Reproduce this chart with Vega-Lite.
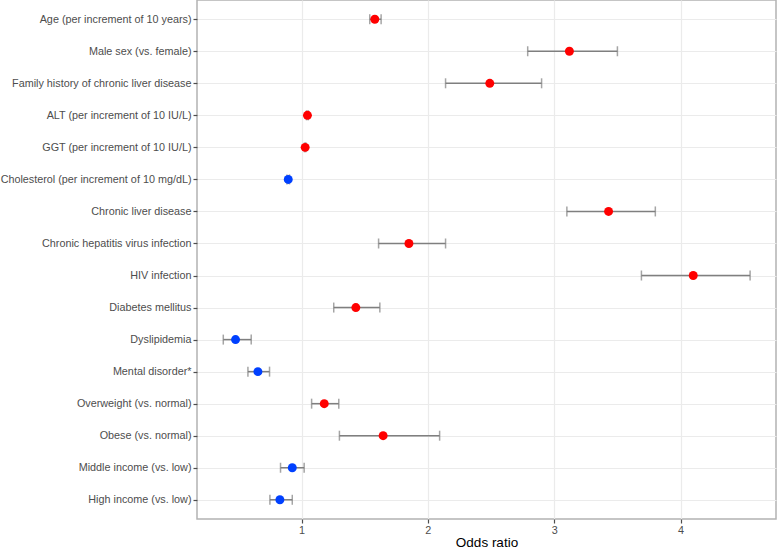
{
  "$schema": "https://vega.github.io/schema/vega-lite/v6.json",
  "autosize": {"type": "none"},
  "padding": {"left": 197, "top": 0, "right": 2, "bottom": 32},
  "width": 579,
  "height": 519,
  "background": "white",
  "config": {
    "view": {"stroke": "#B3B3B3", "strokeWidth": 1.5},
    "font": "Liberation Sans",
    "axis": {
      "domain": false,
      "gridColor": "#EBEBEB",
      "gridWidth": 1.2,
      "tickColor": "#4D4D4D",
      "tickWidth": 1.2,
      "tickSize": 4,
      "labelColor": "#4D4D4D",
      "labelFont": "Liberation Sans",
      "labelFontSize": 10.8,
      "labelLimit": 0,
      "titleFont": "Liberation Sans",
      "titleFontWeight": "normal",
      "titleColor": "#000000",
      "titleFontSize": 13.5
    }
  },
  "data": {
    "values": [
      {"factor": "Age (per increment of 10 years)", "or": 1.58, "lo": 1.54, "hi": 1.63},
      {"factor": "Male sex (vs. female)", "or": 3.12, "lo": 2.79, "hi": 3.50},
      {"factor": "Family history of chronic liver disease", "or": 2.49, "lo": 2.14, "hi": 2.90},
      {"factor": "ALT  (per increment of 10 IU/L)", "or": 1.047, "lo": 1.04, "hi": 1.054},
      {"factor": "GGT (per increment of 10 IU/L)", "or": 1.029, "lo": 1.024, "hi": 1.034},
      {"factor": "Cholesterol (per increment of 10 mg/dL)", "or": 0.895, "lo": 0.885, "hi": 0.905},
      {"factor": "Chronic liver disease", "or": 3.43, "lo": 3.10, "hi": 3.80},
      {"factor": "Chronic hepatitis virus infection", "or": 1.85, "lo": 1.61, "hi": 2.14},
      {"factor": "HIV infection", "or": 4.10, "lo": 3.69, "hi": 4.55},
      {"factor": "Diabetes mellitus", "or": 1.43, "lo": 1.255, "hi": 1.62},
      {"factor": "Dyslipidemia", "or": 0.478, "lo": 0.381, "hi": 0.602},
      {"factor": "Mental disorder*", "or": 0.655, "lo": 0.576, "hi": 0.747},
      {"factor": "Overweight (vs. normal)", "or": 1.18, "lo": 1.08, "hi": 1.295},
      {"factor": "Obese (vs. normal)", "or": 1.646, "lo": 1.30, "hi": 2.093},
      {"factor": "Middle income (vs. low)", "or": 0.927, "lo": 0.834, "hi": 1.021},
      {"factor": "High income (vs. low)", "or": 0.829, "lo": 0.750, "hi": 0.927}
    ]
  },
  "encoding": {
    "y": {
      "field": "factor",
      "type": "nominal",
      "sort": null,
      "scale": {"type": "point", "padding": 0.6},
      "axis": {"title": null, "labelPadding": 2, "grid": true}
    }
  },
  "layer": [
    {
      "mark": {"type": "rule", "color": "#7F7F7F", "strokeWidth": 1.5},
      "encoding": {
        "x": {
          "field": "lo",
          "type": "quantitative",
          "scale": {"domain": [0.173, 4.755], "nice": false, "zero": false},
          "axis": {"title": "Odds ratio", "values": [1, 2, 3, 4], "format": "d", "grid": true, "labelPadding": 1, "titlePadding": 1}
        },
        "x2": {"field": "hi"}
      }
    },
    {
      "mark": {"type": "tick", "color": "#7F7F7F", "thickness": 1.5, "size": 10, "orient": "vertical"},
      "encoding": {"x": {"field": "lo", "type": "quantitative"}}
    },
    {
      "mark": {"type": "tick", "color": "#7F7F7F", "thickness": 1.5, "size": 10, "orient": "vertical"},
      "encoding": {"x": {"field": "hi", "type": "quantitative"}}
    },
    {
      "mark": {"type": "circle", "size": 80, "opacity": 1},
      "encoding": {
        "x": {"field": "or", "type": "quantitative"},
        "color": {
          "condition": {"test": "datum.or > 1", "value": "#FF0000"},
          "value": "#0040FF"
        }
      }
    }
  ]
}
